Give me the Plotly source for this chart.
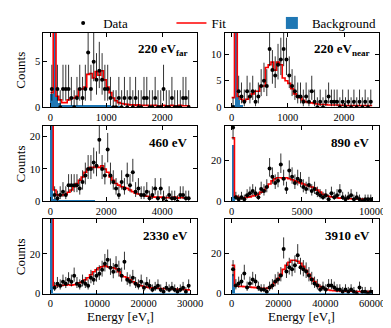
import numpy as np
import plotly.graph_objects as go
from plotly.subplots import make_subplots

# ---------------- data ----------------
panel_labels = ["220 eV<sub>far</sub>", "220 eV<sub>near</sub>", "460 eV", "890 eV", "2330 eV", "3910 eV"]
x_max = [2500, 2500, 5000, 10000, 30000, 60000]   # histogram upper edge (eV_t), 50 bins each
n_bins = 50

data_220far = [2, 15, 2, 0, 2, 2, 2, 1, 0, 1, 2, 1, 2, 6, 2, 5, 3, 4, 3, 2,
               2, 1, 0, 0, 1, 0, 1, 0, 1, 0, 1, 0, 0, 1, 1, 0, 0, 1, 0, 0,
               2, 0, 0, 1, 0, 0, 0, 1, 1, 0]
fit_220far = [1.6, 30, 1.2, 0.8, 0.5, 0.5, 0.8, 1.0, 1.0, 1.2, 2.0, 2.0, 2.2, 3.6, 3.7, 3.2, 3.9, 3.5, 4.0, 3.0,
              2.2, 1.6, 1.0, 0.7, 0.5, 0.4, 0.35, 0.3, 0.25, 0.25, 0.2, 0.25, 0.2, 0.2, 0.2, 0.15, 0.2, 0.2, 0.15, 0.15,
              0.2, 0.15, 0.15, 0.2, 0.15, 0.15, 0.2, 0.15, 0.15, 0.15]
bkg_220far = [1.5, 30, 1.2, 0.5, 0.3, 0.3, 0.3, 0.3, 0.3, 0.3, 0.3, 0.3, 0.3, 0.3, 0.3, 0.3, 0.3, 0.3, 0.3, 0.3,
              0.3, 0.3, 0.2, 0.1, 0.1, 0.1, 0.05, 0.05, 0.05, 0.05, 0.05, 0.05, 0.05, 0.05, 0.05, 0.05, 0.05, 0.05, 0.05, 0.05,
              0.05, 0.05, 0.05, 0.05, 0.05, 0.05, 0.05, 0.05, 0.05, 0.05]

data_220near = [0, 20, 3, 2, 1, 3, 2, 3, 1, 2, 4, 5, 4, 11, 7, 6, 8, 9, 11, 9,
                6, 4, 3, 2, 2, 1, 2, 1, 3, 1, 0, 1, 0, 1, 2, 1, 1, 1, 0, 1,
                0, 1, 0, 1, 0, 1, 0, 1, 0, 1]
fit_220near = [1.8, 40, 2.0, 1.5, 1.2, 1.5, 2.0, 2.5, 3.0, 3.0, 4.0, 4.0, 7.5, 8.0, 8.5, 7.0, 8.5, 8.0, 5.5, 5.0,
               4.5, 3.5, 2.5, 2.0, 1.8, 1.3, 1.0, 0.9, 0.8, 0.7, 0.6, 0.5, 0.5, 0.5, 0.4, 0.4, 0.4, 0.4, 0.35, 0.35,
               0.3, 0.3, 0.3, 0.3, 0.3, 0.3, 0.3, 0.3, 0.3, 0.3]
bkg_220near = [0.5, 40, 1.5, 0.5, 0.1, 0.1, 0.1, 0.1, 0.1, 0.1, 0.1, 0.1, 0.1, 0.1, 0.1, 0.1, 0.1, 0.1, 0.1, 0.1,
               0.1, 0.1, 0.1, 0.1, 0.1, 0.1, 0.1, 0.1, 0.1, 0.1, 0.1, 0.1, 0.1, 0.1, 0.1, 0.1, 0.1, 0.1, 0.1, 0.1,
               0.1, 0.1, 0.1, 0.1, 0.1, 0.1, 0.1, 0.1, 0.1, 0.1]

data_460 = [30, 2, 1, 2, 3, 2, 5, 5, 5, 5, 4, 6, 8, 10, 10, 12, 11, 19, 10, 8,
            16, 8, 6, 4, 2, 6, 4, 8, 5, 9, 3, 4, 2, 2, 3, 1, 2, 4, 1, 4,
            1, 0, 2, 1, 1, 0, 2, 2, 1, 1]
fit_460 = [40, 3.5, 2.0, 1.8, 2.0, 2.2, 2.8, 3.5, 4.5, 5.5, 6.5, 7.5, 9.0, 10.0, 10.5, 10.5, 10.8, 10.5, 11.0, 10.0,
           9.0, 7.5, 6.5, 5.5, 5.0, 4.5, 4.3, 4.0, 3.5, 3.0, 2.5, 2.3, 2.0, 1.8, 1.6, 1.5, 1.4, 1.3, 1.2, 1.3,
           1.2, 1.1, 1.2, 1.0, 1.3, 1.0, 1.2, 1.1, 1.0, 1.0]
bkg_460 = [40, 0.8, 0.4, 0.4, 0.35, 0.35, 0.3, 0.3, 0.3, 0.25, 0.25, 0.25, 0.2, 0.2, 0.2, 0.2, 0.15, 0.15, 0.15, 0.15,
           0.1, 0.1, 0.1, 0.1, 0.1, 0.1, 0.1, 0.1, 0.1, 0.1, 0.1, 0.1, 0.1, 0.1, 0.1, 0.1, 0.1, 0.1, 0.1, 0.1,
           0.1, 0.1, 0.1, 0.1, 0.1, 0.1, 0.1, 0.1, 0.1, 0.1]

data_890 = [36, 2, 1, 2, 1, 3, 4, 5, 4, 2, 6, 5, 7, 16, 12, 9, 10, 18, 11, 6,
            15, 12, 9, 11, 10, 7, 6, 8, 5, 6, 4, 3, 2, 3, 1, 4, 2, 3, 5, 2,
            1, 2, 3, 1, 2, 1, 0, 1, 1, 1]
fit_890 = [31, 2.5, 2.0, 1.8, 1.8, 2.0, 2.2, 2.6, 3.0, 3.5, 4.5, 5.5, 7.0, 8.5, 10.0, 11.0, 11.5, 11.5, 11.0, 11.5,
           11.0, 10.5, 10.0, 9.5, 9.0, 8.5, 8.0, 7.5, 7.0, 6.5, 5.5, 4.5, 3.5, 3.0, 2.5, 2.2, 2.0, 1.8, 1.6, 1.5,
           1.4, 1.3, 1.3, 1.2, 1.2, 1.1, 1.1, 1.0, 1.0, 1.0]
bkg_890 = [27.5, 0.2, 0.2, 0.2, 0.15, 0.15, 0.15, 0.1, 0.1, 0.1, 0.1, 0.1, 0.1, 0.1, 0.1, 0.1, 0.05, 0.05, 0.05, 0.05,
           0.05, 0.05, 0.05, 0.05, 0.05, 0.05, 0.05, 0.05, 0.05, 0.05, 0.05, 0.05, 0.05, 0.05, 0.05, 0.05, 0.05, 0.05, 0.05, 0.05,
           0.05, 0.05, 0.05, 0.05, 0.05, 0.05, 0.05, 0.05, 0.05, 0.05]

data_2330 = [45, 3, 5, 4, 6, 5, 7, 6, 9, 5, 4, 6, 5, 4, 8, 7, 9, 10, 12, 15,
             17, 13, 11, 14, 12, 9, 16, 7, 6, 8, 5, 4, 6, 3, 5, 4, 2, 3, 4, 2,
             1, 3, 2, 3, 2, 1, 2, 3, 1, 4]
fit_2330 = [45, 4.0, 4.0, 4.0, 4.2, 4.3, 4.5, 4.2, 4.5, 5.0, 5.5, 6.0, 7.0, 8.0, 9.5, 11.0, 12.0, 13.0, 13.5, 14.0,
            13.5, 13.0, 13.0, 12.5, 11.0, 9.0, 8.5, 8.0, 7.0, 6.0, 5.2, 4.5, 4.0, 3.6, 3.3, 3.0, 2.9, 2.8, 2.7, 2.6,
            2.5, 2.5, 2.4, 2.4, 2.3, 2.2, 2.2, 2.1, 2.0, 1.9]
bkg_2330 = [45, 0.3, 0.3, 0.3, 0.25, 0.25, 0.2, 0.2, 0.2, 0.2, 0.15, 0.15, 0.15, 0.15, 0.1, 0.1, 0.1, 0.1, 0.1, 0.1,
            0.1, 0.1, 0.1, 0.1, 0.1, 0.1, 0.1, 0.1, 0.1, 0.1, 0.1, 0.1, 0.1, 0.1, 0.1, 0.1, 0.1, 0.1, 0.1, 0.1,
            0.1, 0.1, 0.1, 0.1, 0.1, 0.1, 0.1, 0.1, 0.1, 0.1]

data_3910 = [12, 4, 5, 6, 10, 3, 5, 7, 6, 3, 2, 2, 1, 3, 4, 6, 7, 9, 22, 11,
             13, 12, 14, 19, 13, 12, 11, 9, 7, 5, 4, 2, 3, 2, 4, 4, 3, 2, 2, 1,
             2, 1, 2, 1, 0, 3, 1, 1, 0, 1]
fit_3910 = [14, 3.8, 3.7, 3.6, 3.5, 3.4, 3.3, 3.1, 3.0, 2.8, 2.7, 2.6, 2.6, 3.0, 4.0, 5.5, 7.5, 9.5, 12.0, 14.0,
            15.5, 16.5, 16.5, 16.0, 15.0, 13.5, 11.5, 9.5, 7.5, 6.0, 4.5, 3.5, 2.8, 2.2, 1.8, 1.6, 1.5, 1.4, 1.3, 1.3,
            1.2, 1.2, 1.2, 1.1, 1.1, 1.1, 1.0, 1.0, 1.0, 1.0]
bkg_3910 = [9.6, 0.3, 0.3, 0.3, 0.25, 0.25, 0.2, 0.2, 0.2, 0.2, 0.15, 0.15, 0.15, 0.15, 0.1, 0.1, 0.1, 0.1, 0.1, 0.1,
            0.1, 0.1, 0.1, 0.1, 0.1, 0.1, 0.1, 0.1, 0.1, 0.1, 0.1, 0.1, 0.1, 0.1, 0.1, 0.1, 0.1, 0.1, 0.1, 0.1,
            0.1, 0.1, 0.1, 0.1, 0.1, 0.1, 0.1, 0.1, 0.1, 0.1]

data_sets = [data_220far, data_220near, data_460, data_890, data_2330, data_3910]
fit_sets = [fit_220far, fit_220near, fit_460, fit_890, fit_2330, fit_3910]
bkg_sets = [bkg_220far, bkg_220near, bkg_460, bkg_890, bkg_2330, bkg_3910]

y_max = [8.2, 14.1, 23.3, 36.8, 37.5, 36.8]
y_dtick = [5, 5, 10, 20, 20, 20]
x_dtick = [1000, 1000, 2000, 5000, 10000, 20000]

# ---------------- layout geometry ----------------
W, H = 391, 328
col_px = [(36, 192), (220, 377)]
row_px = [(25, 101), (120, 197), (215, 291)]

FONT = "Liberation Serif"
RED = "#ff0000"
BLUE = "#1f77b4"

fig = make_subplots(rows=3, cols=2)

for k in range(6):
    r, c = k // 2 + 1, k % 2 + 1
    xm = x_max[k]
    bw = xm / n_bins
    centers = bw * (np.arange(n_bins) + 0.5)
    edges = bw * np.arange(n_bins + 1)
    d = np.array(data_sets[k], dtype=float)
    f = np.array(fit_sets[k], dtype=float)
    b = np.array(bkg_sets[k], dtype=float)

    # Garwood-like asymmetric Poisson errors (Gehrels approximation)
    up = np.sqrt(d + 0.75) + 1.0
    dd = np.maximum(d, 1)
    lo = np.where(d > 0, d - d * (1 - 1 / (9 * dd) - 1 / (3 * np.sqrt(dd))) ** 3, 0.0)

    show = (k == 0)
    fig.add_trace(go.Bar(x=centers, y=b, width=bw, marker=dict(color=BLUE, line=dict(width=0)),
                         name="Background", showlegend=show, legend="legend3"), row=r, col=c)
    fig.add_trace(go.Scatter(x=edges, y=np.append(f, f[-1]), mode="lines", line=dict(color=RED, width=1.6, shape="hv"),
                             name="Fit", showlegend=show, legend="legend2"), row=r, col=c)
    fig.add_trace(go.Scatter(x=centers, y=d, mode="markers",
                             marker=dict(color="black", size=4),
                             error_y=dict(type="data", symmetric=False, array=up, arrayminus=lo,
                                          color="rgba(0,0,0,0.8)", thickness=1, width=0),
                             cliponaxis=True,
                             name="Data", showlegend=show, legend="legend"), row=r, col=c)

    xi = "" if k == 0 else str(k + 1)
    x0p, x1p = col_px[c - 1]
    y0p, y1p = row_px[r - 1]
    pad = 0.05 * xm
    fig.layout["xaxis" + xi].update(
        domain=[x0p / W, x1p / W], range=[-pad, xm + pad], dtick=x_dtick[k], tick0=0,
        tickformat="d", ticks="inside", ticklen=4, tickcolor="black", showline=True, linecolor="black",
        linewidth=1, mirror="ticks", showgrid=False, zeroline=False,
        tickfont=dict(family=FONT, size=10.5, color="black"))
    fig.layout["yaxis" + xi].update(
        domain=[1 - y1p / H, 1 - y0p / H], range=[0, y_max[k]], dtick=y_dtick[k], tick0=0,
        ticks="inside", ticklen=4, tickcolor="black", showline=True, linecolor="black",
        linewidth=1, mirror="ticks", showgrid=False, zeroline=False,
        tickfont=dict(family=FONT, size=10.5, color="black"))

    fig.add_annotation(x=(x1p - 7) / W, y=1 - (y0p + 17) / H, xref="paper", yref="paper",
                       text="<b>" + panel_labels[k] + "</b>", showarrow=False,
                       xanchor="right", yanchor="middle",
                       font=dict(family=FONT, size=13, color="black"))

for r in range(3):
    y0p, y1p = row_px[r]
    fig.add_annotation(x=13 / W, y=1 - (y0p + y1p) / 2 / H, xref="paper", yref="paper",
                       text="Counts", textangle=-90, showarrow=False, xanchor="center", yanchor="middle",
                       font=dict(family=FONT, size=13, color="black"))
for c in range(2):
    x0p, x1p = col_px[c]
    fig.add_annotation(x=(x0p + x1p) / 2 / W, y=1 - 315 / H, xref="paper", yref="paper",
                       text="Energy [eV<sub>t</sub>]", showarrow=False, xanchor="center", yanchor="middle",
                       font=dict(family=FONT, size=13, color="black"))

legend_common = dict(orientation="h", y=1 - 15 / H, xanchor="left", yanchor="middle",
                     font=dict(family=FONT, size=13, color="black"), bgcolor="rgba(0,0,0,0)",
                     itemwidth=30, borderwidth=0)
fig.update_layout(
    width=W, height=H, margin=dict(l=0, r=0, t=0, b=0),
    paper_bgcolor="white", plot_bgcolor="white",
    bargap=0, barmode="overlay",
    font=dict(family=FONT, size=11, color="black"),
    legend=dict(x=56 / W, **legend_common),
    legend2=dict(x=166 / W, **legend_common),
    legend3=dict(x=268 / W, **legend_common),
)

fig.write_html("out.html")
